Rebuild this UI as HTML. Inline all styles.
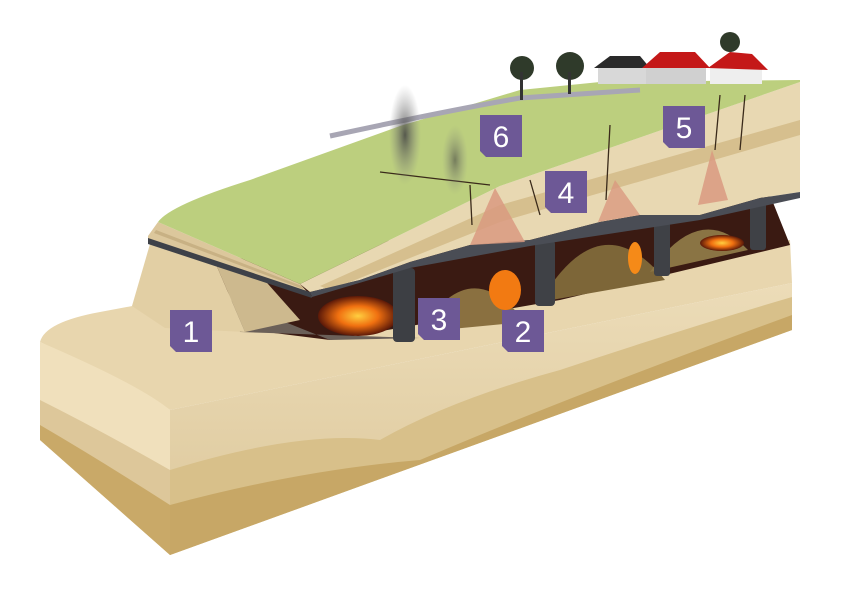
<!DOCTYPE html>
<html><head><meta charset="utf-8"><style>
html,body{margin:0;padding:0;background:#fff;}
svg{display:block}
.lb{font-family:"Liberation Sans",sans-serif;font-size:30px;fill:#fff;text-anchor:middle}
</style></head><body>
<svg width="843" height="596" viewBox="0 0 843 596" xmlns="http://www.w3.org/2000/svg">
<defs>
<linearGradient id="side" x1="0" y1="0" x2="0" y2="1">
<stop offset="0" stop-color="#ecdcb8"/><stop offset="1" stop-color="#dcc79a"/></linearGradient>
<radialGradient id="fire" cx="0.5" cy="0.5" r="0.5">
<stop offset="0" stop-color="#ffcf40"/><stop offset="0.5" stop-color="#f07010"/><stop offset="1" stop-color="#5a1808"/></radialGradient>
<radialGradient id="smoke" cx="0.5" cy="0.5" r="0.5">
<stop offset="0" stop-color="#444" stop-opacity="0.85"/><stop offset="1" stop-color="#888" stop-opacity="0"/></radialGradient>
</defs>
<!-- lower block top surface -->
<path d="M40,342 Q45,322 100,312 L260,282 L790,240 L792,283 L170,410 Q150,395 40,342Z" fill="#e8d6ae"/>
<!-- dark cavity -->
<path d="M210,262 L770,195 L790,245 L560,300 L330,340 L250,330Z" fill="#3a1a12"/>
<path d="M230,300 L330,340 L420,338 L240,332Z" fill="#6b6058"/>
<!-- left embankment -->
<path d="M150,244 L215,262 L245,332 L165,328 L132,306 Z" fill="#e2cfa4"/>
<path d="M215,262 L260,275 L300,320 L245,332Z" fill="#cdb98e"/>
<!-- mounds -->
<path d="M420,332 Q470,250 525,322Z" fill="#8a7040"/>
<path d="M540,302 Q600,200 665,280Z" fill="#7d6638"/>
<path d="M650,272 Q700,200 748,250Z" fill="#8a7444"/>
<!-- fires -->
<ellipse cx="358" cy="316" rx="40" ry="20" fill="url(#fire)"/>
<ellipse cx="505" cy="290" rx="16" ry="20" fill="#f27a12"/>
<ellipse cx="635" cy="258" rx="7" ry="16" fill="#f58a18"/>
<ellipse cx="722" cy="243" rx="22" ry="8" fill="url(#fire)"/>
<!-- pillars -->
<rect x="393" y="268" width="22" height="74" rx="4" fill="#3d3f44"/>
<rect x="535" y="240" width="20" height="66" rx="4" fill="#3f4146"/>
<rect x="654" y="222" width="16" height="54" rx="3" fill="#3f4146"/>
<rect x="750" y="202" width="16" height="48" rx="3" fill="#3f4146"/>
<!-- lower long side -->
<path d="M170,410 L792,283 L792,330 L170,555Z" fill="url(#side)"/>
<path d="M170,470 Q300,430 380,440 Q450,400 560,370 Q680,330 792,297 L792,330 L170,555Z" fill="#d8c08a"/>
<path d="M170,505 Q300,470 420,460 Q560,400 792,315 L792,330 L170,555Z" fill="#c7a766"/>
<!-- lower front face -->
<path d="M40,342 Q140,385 170,410 L170,555 L40,440Z" fill="#f0e0bc"/>
<path d="M40,400 Q100,430 170,470 L170,555 L40,440Z" fill="#ddc79a"/>
<path d="M40,425 Q100,460 170,505 L170,555 L40,440Z" fill="#c9a968"/>
<!-- upper slab front face -->
<path d="M300,284 L500,186 L800,82 L800,192 L760,198 L700,215 L640,215 L600,222 L530,240 L470,245 L410,262 L360,280 L310,292Z" fill="#e8d8b2"/>
<path d="M320,286 L500,205 L800,120 L800,135 L500,222 L330,290Z" fill="#d6bf8e"/>
<path d="M310,292 L360,280 L410,262 L470,245 L530,240 L600,222 L640,215 L700,215 L760,198 L800,192 L800,198 L700,220 L530,246 L410,268 L312,297Z" fill="#4a4d55"/>
<!-- left end strips of upper slab -->
<path d="M158,222 L300,284 L312,297 L148,243 L148,236Z" fill="#dcc79c"/>
<path d="M156,230 L302,286 L303,289 L154,233Z" fill="#c8b184"/>
<path d="M148,238 L310,292 L312,298 L148,244Z" fill="#3e4148"/>
<!-- green top -->
<path d="M158,222 Q170,205 250,180 L400,126 L520,90 L600,82 L800,80 L800,82 L500,186 L300,284 Z" fill="#bccf7e"/>
<path d="M330,136 Q450,110 520,98 L640,90" stroke="#a8a6b4" stroke-width="5" fill="none"/>
<!-- pink cones -->
<path d="M495,188 L470,245 L525,242Z" fill="#d99a80" opacity="0.85"/>
<path d="M615,180 L598,222 L640,215Z" fill="#d99a80" opacity="0.8"/>
<path d="M712,150 L698,205 L728,200Z" fill="#d99a80" opacity="0.85"/>
<!-- cracks -->
<path d="M380,172 L430,178 L490,185 M470,185 L472,225 M530,180 L540,215 M610,125 L606,200 M720,95 L715,150 M745,95 L740,150" stroke="#3a2a1a" stroke-width="1.3" fill="none"/>
<!-- smoke -->
<ellipse cx="405" cy="135" rx="16" ry="50" fill="url(#smoke)"/>
<ellipse cx="455" cy="160" rx="13" ry="35" fill="url(#smoke)" opacity="0.7"/>
<!-- trees and houses -->
<circle cx="522" cy="68" r="12" fill="#2f3a2a"/><rect x="520" y="72" width="3" height="28" fill="#333"/>
<circle cx="570" cy="66" r="14" fill="#2f3a2a"/><rect x="568" y="72" width="3" height="22" fill="#333"/>
<circle cx="730" cy="42" r="10" fill="#2f3a2a"/>
<rect x="598" y="68" width="50" height="16" fill="#d8d8d8"/><path d="M594,68 L610,56 L640,56 L650,68Z" fill="#2a2a2a"/>
<rect x="646" y="66" width="60" height="18" fill="#d0d0d0"/><path d="M642,68 L660,52 L695,52 L710,68Z" fill="#c41818"/>
<rect x="710" y="66" width="52" height="18" fill="#eee"/><path d="M708,68 L730,52 L752,54 L768,70Z" fill="#c41818"/>
<!-- labels -->
<g fill="#6d5896">
<path d="M170,310 H212 V352 H176 L170,346Z"/>
<path d="M418,298 H460 V340 H424 L418,334Z"/>
<path d="M502,310 H544 V352 H508 L502,346Z"/>
<path d="M545,171 H587 V213 H551 L545,207Z"/>
<path d="M480,115 H522 V157 H486 L480,151Z"/>
<path d="M663,106 H705 V148 H669 L663,142Z"/>
</g>
<text class="lb" x="191" y="342">1</text>
<text class="lb" x="439" y="330">3</text>
<text class="lb" x="523" y="342">2</text>
<text class="lb" x="566" y="203">4</text>
<text class="lb" x="501" y="147">6</text>
<text class="lb" x="684" y="138">5</text>
</svg>
</body></html>
